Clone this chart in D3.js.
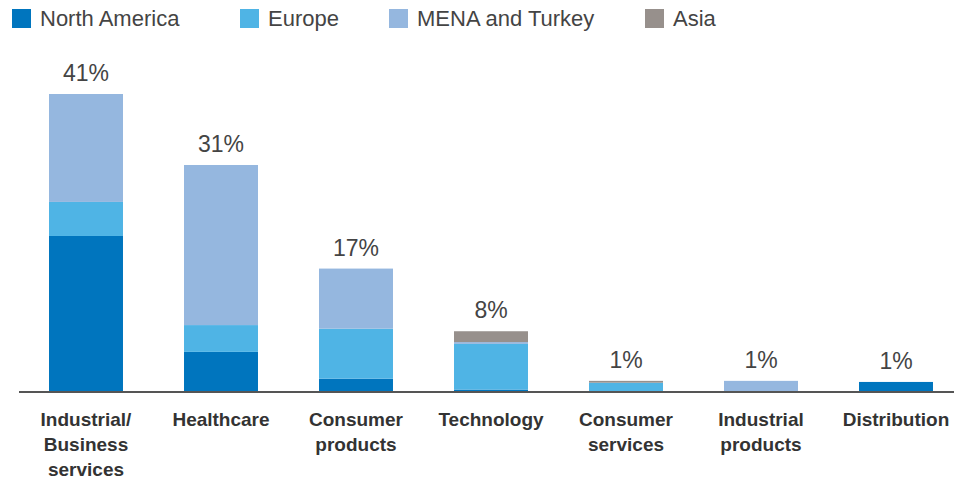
<!DOCTYPE html>
<html>
<head>
<meta charset="utf-8">
<script src="https://cdn.jsdelivr.net/npm/d3@7"></script>
<style>
  body { margin: 0; background: #fff; }
  svg { display: block; }
  .legend text { font-family: "Liberation Sans", Arial, sans-serif; font-size: 22px; fill: #444; }
  .val { font-family: "Liberation Sans", Arial, sans-serif; font-size: 23px; fill: #444; }
  .cat { font-family: "Liberation Sans", Arial, sans-serif; font-weight: bold; font-size: 19px; fill: #333; }
</style>
</head>
<body>
<div id="chart"></div>
<script>
// sectors along the x axis
var categories = ["Industrial/\nBusiness\nservices", "Healthcare", "Consumer\nproducts", "Technology", "Consumer\nservices", "Industrial\nproducts", "Distribution"]

// share of deals (%) by region
var northAmerica = [21.4, 5.4, 1.7, 0.2, 0, 0, 1.25]
var europe       = [4.7, 3.7, 6.9, 6.3, 1.15, 0, 0]
var mena         = [14.9, 22.1, 8.3, 0.25, 0, 1.4, 0]
var asia         = [0, 0, 0, 1.5, 0.25, 0, 0]

var totalLabels = ["41%", "31%", "17%", "8%", "1%", "1%", "1%"]

var seriesNames = ["North America", "Europe", "MENA and Turkey", "Asia"]
var seriesColors = ["#0075be", "#4fb4e5", "#95b7df", "#97908c"]

var width = 954, height = 480

var svg = d3.select("#chart").append("svg")
  .attr("width", width)
  .attr("height", height)

// build rows for the stack
var rows = categories.map((c, i) => ({
  cat: c,
  "North America": northAmerica[i],
  "Europe": europe[i],
  "MENA and Turkey": mena[i],
  "Asia": asia[i]
}))

var stack = d3.stack().keys(seriesNames)(rows)

var x = d3.scaleBand()
  .domain(categories)
  .range([18.5, 963.5])
  .paddingInner(0.452)
  .paddingOuter(0.226)

var y = d3.scaleLinear()
  .domain([0, 41])
  .range([391, 94])

var color = d3.scaleOrdinal().domain(seriesNames).range(seriesColors)

svg.append("g")
  .selectAll("g")
  .data(stack)
  .enter().append("g")
    .attr("fill", d => color(d.key))
  .selectAll("rect")
  .data(d => d)
  .enter().append("rect")
    .attr("x", d => x(d.data.cat))
    .attr("width", x.bandwidth())
    .attr("y", d => y(d[1]))
    .attr("height", d => Math.max(0, y(d[0]) - y(d[1])))

// total labels over each bar
var totals = rows.map(r => seriesNames.reduce((s, k) => s + r[k], 0))
svg.append("g")
  .selectAll("text")
  .data(categories)
  .enter().append("text")
    .attr("class", "val")
    .attr("text-anchor", "middle")
    .attr("x", d => x(d) + x.bandwidth() / 2)
    .attr("y", (d, i) => y(totals[i]) - 13)
    .text((d, i) => totalLabels[i])

// baseline
svg.append("line")
  .attr("x1", 19).attr("x2", width)
  .attr("y1", 392).attr("y2", 392)
  .attr("stroke", "#555")
  .attr("stroke-width", 2)

// category labels, multi-line
var cat = svg.append("g")
  .selectAll("text")
  .data(categories)
  .enter().append("text")
    .attr("class", "cat")
    .attr("text-anchor", "middle")
    .attr("x", d => x(d) + x.bandwidth() / 2)
    .attr("y", 426)
cat.selectAll("tspan")
  .data(d => d.split("\n").map(t => ({t: t, xx: x(d) + x.bandwidth() / 2})))
  .enter().append("tspan")
    .attr("x", d => d.xx)
    .attr("dy", (d, i) => i == 0 ? 0 : 25)
    .text(d => d.t)

// legend
var legendX = [12, 240, 389, 645]
var leg = svg.append("g").attr("class", "legend")
  .selectAll("g")
  .data(seriesNames)
  .enter().append("g")
    .attr("transform", (d, i) => "translate(" + legendX[i] + ",0)")
leg.append("rect")
  .attr("x", 0).attr("y", 9)
  .attr("width", 19).attr("height", 19)
  .attr("fill", d => color(d))
leg.append("text")
  .attr("x", 28).attr("y", 26)
  .text(d => d)
</script>
</body>
</html>
